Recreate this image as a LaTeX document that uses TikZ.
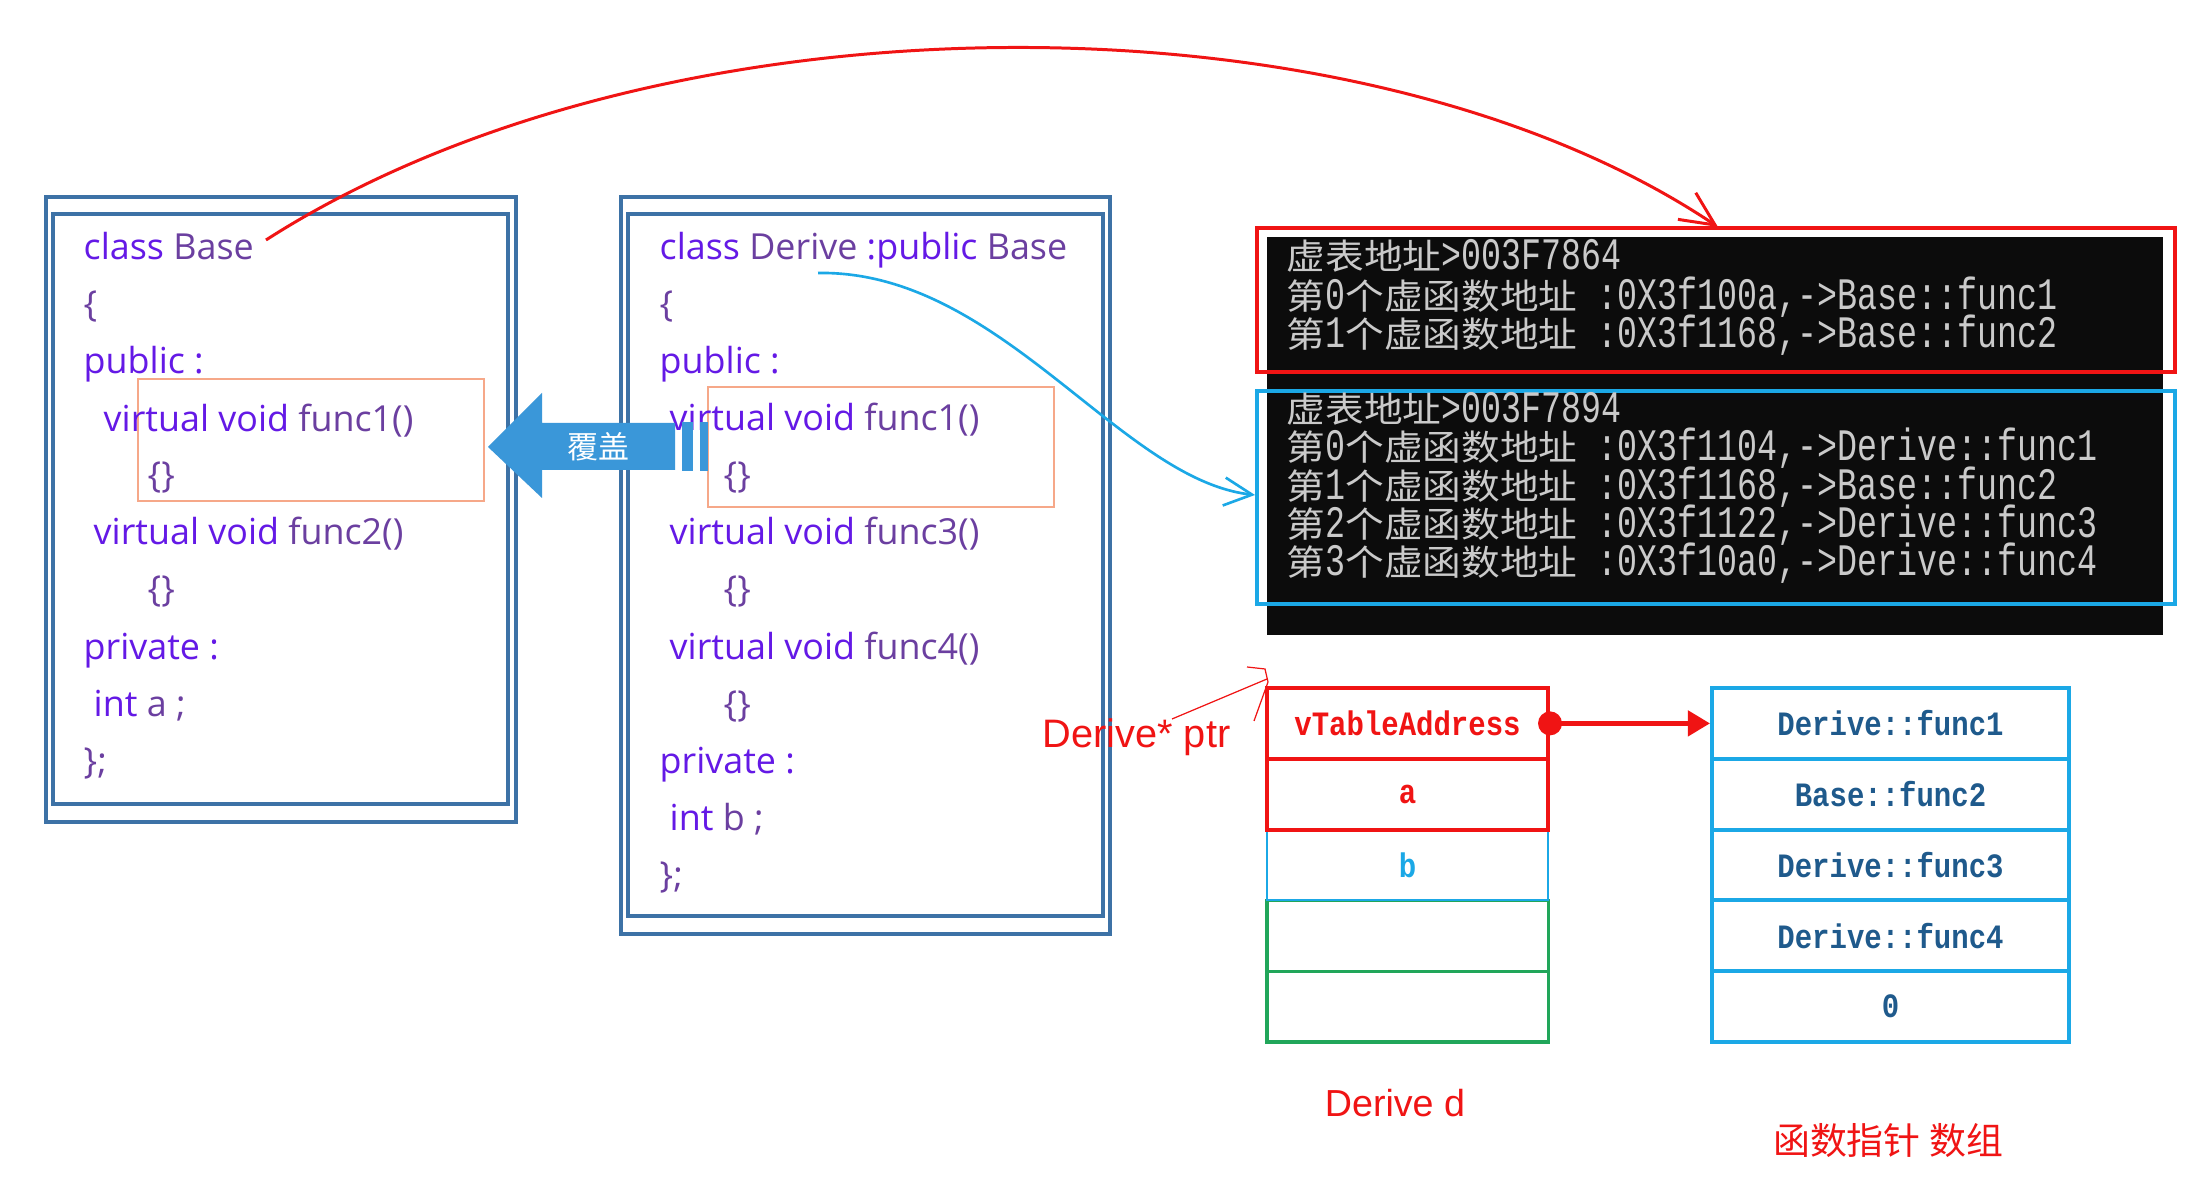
\documentclass[tikz,border=0pt]{standalone}
\usepackage{fontspec}
\setmainfont{Open Sans}
\newfontfamily\cjkfont{Noto Sans CJK SC}
\newfontfamily\termcjk[FakeStretch=1.1]{Noto Sans CJK SC}
\newfontfamily\conmono[FakeStretch=0.74]{Liberation Mono}
\newfontfamily\cellmono[FakeStretch=0.85]{Liberation Mono}
\newfontfamily\labelsans{Liberation Sans}
\usetikzlibrary{arrows.meta}

\definecolor{kwcol}{HTML}{6419E6}
\definecolor{idcol}{HTML}{6B3FA0}
\definecolor{frameblue}{HTML}{3D72A6}
\definecolor{hlorange}{HTML}{F6A889}
\definecolor{arrowblue}{HTML}{3A97D9}
\definecolor{memred}{HTML}{F01414}
\definecolor{memcyan}{HTML}{1BA8E6}
\definecolor{memgreen}{HTML}{21A65A}
\definecolor{celltext}{HTML}{1F5A8C}
\definecolor{termbg}{HTML}{0C0C0C}
\definecolor{termtext}{HTML}{CACACA}

\newcommand\codefont{\fontsize{10.2pt}{12pt}\selectfont}
\newcommand\kw[1]{\textcolor{kwcol}{#1}}
\newcommand\termfont{\conmono\fontsize{12.8pt}{14pt}\selectfont}
\newcommand\tc[1]{{\termcjk\fontsize{10pt}{12pt}\selectfont #1}}
\newcommand\cellfont{\cellmono\bfseries\fontsize{9.7pt}{12pt}\selectfont}

\tikzset{
  classframe/.style={draw=frameblue, line width=1pt},
  codeline/.style={anchor=base west, inner sep=0pt, font=\codefont, text=idcol},
  hlbox/.style={draw=hlorange, line width=0.7pt},
  termline/.style={anchor=west, inner sep=0pt, text height=8pt, text depth=0.5pt,
                   font=\termfont, text=termtext},
  memcell/.style={minimum width=2.81cm, minimum height=0.708cm, inner sep=0pt, font=\cellfont},
  fpcell/.style={minimum width=3.57cm, minimum height=0.708cm, inner sep=0pt, font=\cellfont,
                 draw=memcyan, line width=1.1pt, text=celltext},
  redlabel/.style={inner sep=0pt, text=memred, font=\labelsans\fontsize{10.7pt}{12pt}\selectfont},
}

\begin{document}
\begin{tikzpicture}[x=0.01cm,y=-0.01cm]
\useasboundingbox (0,0) rectangle (2193,1189);
\fill[white] (0,0) rectangle (2193,1189);

% ---- class Base ----
\draw[classframe] (46,197) rectangle (516,822);
\draw[classframe] (53,214) rectangle (508,804);
\draw[hlbox] (138,379) rectangle (484,501);
\node[codeline] (b1) at (83,260) {\kw{class} Base};
\node[codeline] (b2) at (83,317) {\{};
\node[codeline] (b3) at (83,374) {\kw{public :}};
\node[codeline] (b4) at (103,432) {\kw{virtual void} func1()};
\node[codeline] (b5) at (147,488) {\{\}};
\node[codeline] (b6) at (93,545) {\kw{virtual void} func2()};
\node[codeline] (b7) at (147,602) {\{\}};
\node[codeline] (b8) at (83,660) {\kw{private :}};
\node[codeline] (b9) at (93,717) {\kw{int} a ;};
\node[codeline] (b10) at (83,774) {\};};

% ---- class Derive ----
\draw[classframe] (621,197) rectangle (1110,934);
\draw[classframe] (628,214) rectangle (1103,916);
\draw[hlbox] (708,387) rectangle (1054,507);
\node[codeline] (d1) at (659,260) {\kw{class} Derive \kw{:public} Base};
\node[codeline] (d2) at (659,317) {\{};
\node[codeline] (d3) at (659,374) {\kw{public :}};
\node[codeline] (d4) at (669,431) {\kw{virtual void} func1()};
\node[codeline] (d5) at (723,488) {\{\}};
\node[codeline] (d6) at (669,545) {\kw{virtual void} func3()};
\node[codeline] (d7) at (723,602) {\{\}};
\node[codeline] (d8) at (669,660) {\kw{virtual void} func4()};
\node[codeline] (d9) at (723,717) {\{\}};
\node[codeline] (d10) at (659,774) {\kw{private :}};
\node[codeline] (d11) at (669,831) {\kw{int} b ;};
\node[codeline] (d12) at (659,888) {\};};

% ---- override arrow ----
\fill[arrowblue] (488,447) -- (542,393) -- (542,423) -- (675,423) -- (675,470)
  -- (542,470) -- (542,498) -- cycle;
\fill[arrowblue] (682,422) rectangle (693,471);
\fill[arrowblue] (700,422) rectangle (708,471);
\node[inner sep=0pt, text=white, font=\cjkfont\fontsize{8.8pt}{10pt}\selectfont] (ov) at (598,447) {覆盖};

% ---- console output ----
\fill[termbg] (1267,237) rectangle (2163,635);
\draw[memred, line width=0.9pt] (1257,228) rectangle (2175,372);
\draw[memcyan, line width=0.9pt] (1257,391) rectangle (2175,604);
\coordinate (baseTab) at (1718,227);
\coordinate (deriveTab) at (1255,495);
\node[termline] (t1) at (1286,256) {\tc{虚表地址}>003F7864};
\node[termline] (t2) at (1286,296) {\tc{第}0\tc{个虚函数地址} :0X3f100a,->Base::func1};
\node[termline] (t3) at (1286,334) {\tc{第}1\tc{个虚函数地址} :0X3f1168,->Base::func2};
\node[termline] (t4) at (1286,409) {\tc{虚表地址}>003F7894};
\node[termline] (t5) at (1286,447) {\tc{第}0\tc{个虚函数地址} :0X3f1104,->Derive::func1};
\node[termline] (t6) at (1286,486) {\tc{第}1\tc{个虚函数地址} :0X3f1168,->Base::func2};
\node[termline] (t7) at (1286,524) {\tc{第}2\tc{个虚函数地址} :0X3f1122,->Derive::func3};
\node[termline] (t8) at (1286,562) {\tc{第}3\tc{个虚函数地址} :0X3f10a0,->Derive::func4};

% ---- curved links ----
\coordinate (baseStart) at (266,240);
\coordinate (deriveStart) at (818,273);
\draw[memred, line width=0.85pt, -{Straight Barb[length=3.4mm,width=3.2mm]}]
  (baseStart) .. controls (662,-14) and (1359,-14) .. (baseTab);
\draw[memcyan, line width=0.75pt, -{Straight Barb[length=2.8mm,width=2.8mm]}]
  (deriveStart) .. controls (1000,270) and (1120,480) .. (deriveTab);

% ---- object layout of Derive d ----
\node[memcell, draw=memgreen, line width=0.9pt] (m5) at (1407.5,1006.6) {};
\node[memcell, draw=memgreen, line width=0.9pt] (m4) at (1407.5,935.8) {};
\node[memcell, draw=memcyan, line width=0.6pt, text=memcyan] (m3) at (1407.5,865) {b};
\node[memcell, draw=memred, line width=1.1pt, text=memred] (m2) at (1407.5,794.2) {a};
\node[memcell, draw=memred, line width=1.1pt, text=memred] (m1) at (1407.5,723.4) {vTableAddress};

% ---- function pointer array ----
\node[fpcell] (f1) at (1890.5,723.4) {Derive::func1};
\node[fpcell] (f2) at (1890.5,794.2) {Base::func2};
\node[fpcell] (f3) at (1890.5,865) {Derive::func3};
\node[fpcell] (f4) at (1890.5,935.8) {Derive::func4};
\node[fpcell] (f5) at (1890.5,1006.6) {0};

\fill[memred] (m1.east) circle (12);
\draw[memred, line width=1.3pt, -{Triangle[length=2.2mm,width=2.5mm]}] (m1.east) -- (f1.west);

% ---- labels ----
\node[redlabel, anchor=west, font=\labelsans\fontsize{11.3pt}{13pt}\selectfont] (ptr) at (1042,737) {Derive* ptr};
\draw[memred, line width=0.35pt] (1172,719) -- (1267,679);
\draw[memred, line width=0.35pt] (1247,667) -- (1265,669) -- (1268,682) -- (1254,721);
\node[redlabel] (dd) at (1395,1103) {Derive d};
\node[inner sep=0pt, text=memred, font=\cjkfont\fontsize{10.5pt}{12pt}\selectfont] (fa) at (1888,1141) {函数指针 数组};
\end{tikzpicture}
\end{document}
